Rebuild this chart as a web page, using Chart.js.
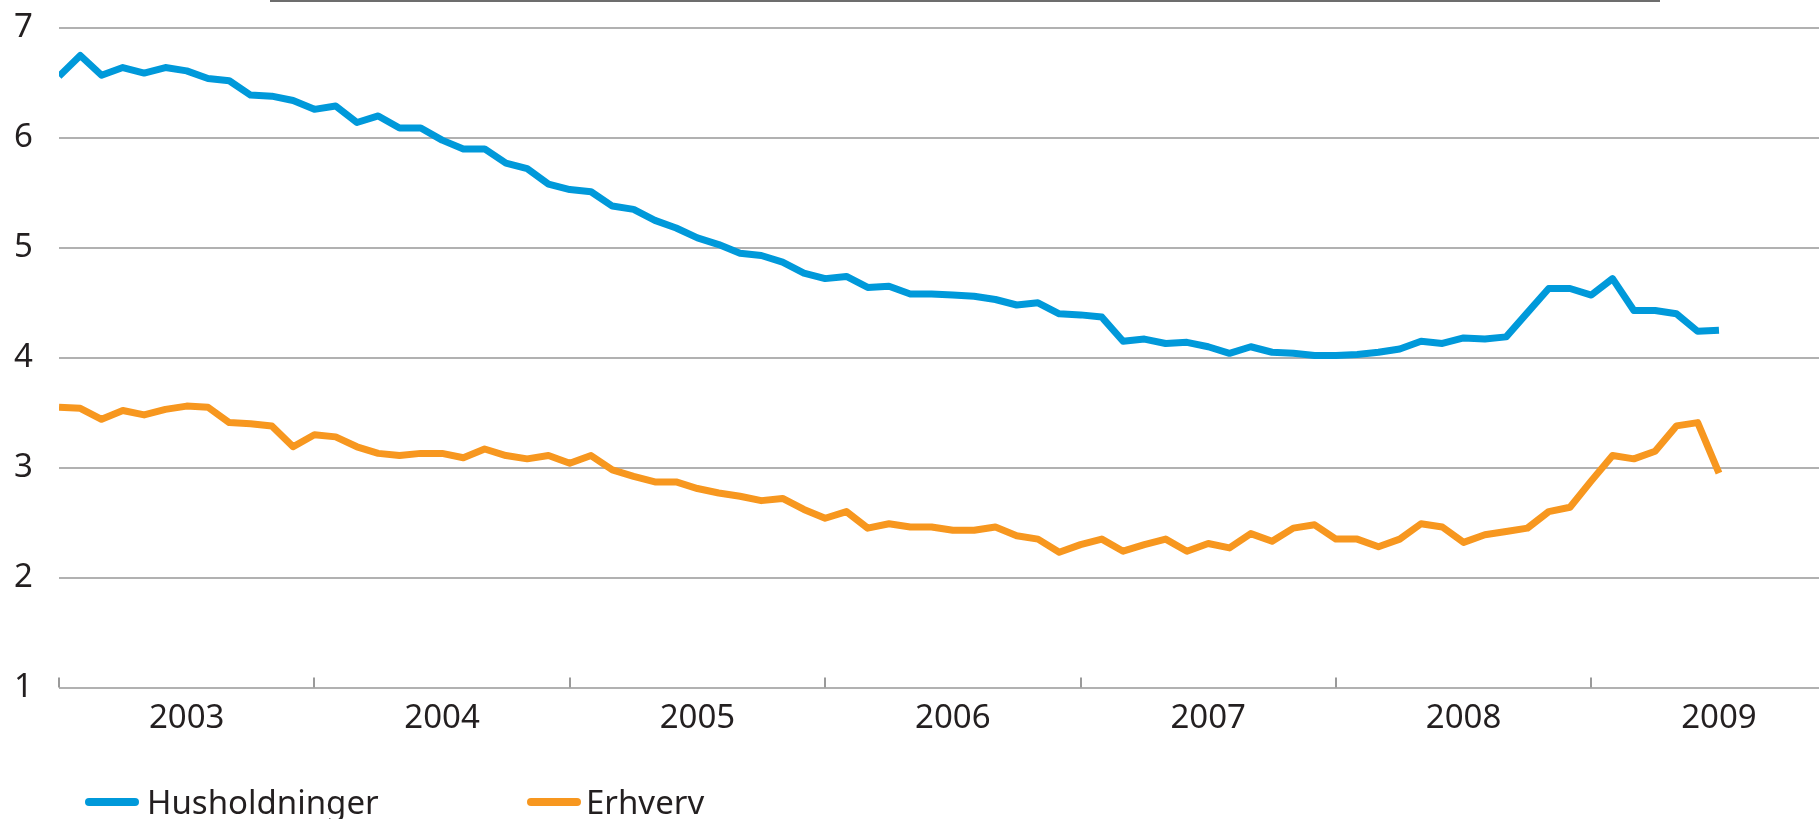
<!DOCTYPE html>
<html>
<head>
<meta charset="utf-8">
<script src="https://cdn.jsdelivr.net/npm/chart.js@4/dist/chart.umd.min.js"></script>
<style>
  body { margin: 0; overflow: hidden; background: #fff; }
  .wrap { position: relative; width: 1819px; height: 819px; }
  .topline { position: absolute; left: 270px; top: 0; width: 1390px; height: 2px; background: #6d6d6d; }
  .legend-line { position: absolute; height: 8px; border-radius: 4px; top: 798px; width: 54px; }
  .legend-text { position: absolute; top: 785px; font: 33px "Noto Sans", sans-serif; line-height: 33px; color: #231f20; white-space: nowrap; }
</style>
</head>
<body>
<div class="wrap">
  <canvas id="myChart" width="1819" height="819"></canvas>
  <div class="topline"></div>
  <div class="legend-line" style="left:85px;background:#0099da"></div>
  <div class="legend-text" style="left:147px">Husholdninger</div>
  <div class="legend-line" style="left:527px;background:#f7971f"></div>
  <div class="legend-text" style="left:586px">Erhverv</div>
</div>
<script>
// monthly values, Jan 2003 - Jul 2009
const years = ['2003', '2004', '2005', '2006', '2007', '2008', '2009'];
const husholdninger = [
  6.56, 6.75, 6.57, 6.64, 6.59, 6.64, 6.61, 6.54, 6.52, 6.39, 6.38, 6.34,
  6.26, 6.29, 6.14, 6.20, 6.09, 6.09, 5.98, 5.90, 5.90, 5.77, 5.72, 5.58,
  5.53, 5.51, 5.38, 5.35, 5.25, 5.18, 5.09, 5.03, 4.95, 4.93, 4.87, 4.77,
  4.72, 4.74, 4.64, 4.65, 4.58, 4.58, 4.57, 4.56, 4.53, 4.48, 4.50, 4.40,
  4.39, 4.37, 4.15, 4.17, 4.13, 4.14, 4.10, 4.04, 4.10, 4.05, 4.04, 4.02,
  4.02, 4.03, 4.05, 4.08, 4.15, 4.13, 4.18, 4.17, 4.19, 4.41, 4.63, 4.63,
  4.57, 4.72, 4.43, 4.43, 4.40, 4.24, 4.25
];
const erhverv = [
  3.55, 3.54, 3.44, 3.52, 3.48, 3.53, 3.56, 3.55, 3.41, 3.40, 3.38, 3.19,
  3.30, 3.28, 3.19, 3.13, 3.11, 3.13, 3.13, 3.09, 3.17, 3.11, 3.08, 3.11,
  3.04, 3.11, 2.98, 2.92, 2.87, 2.87, 2.81, 2.77, 2.74, 2.70, 2.72, 2.62,
  2.54, 2.60, 2.45, 2.49, 2.46, 2.46, 2.43, 2.43, 2.46, 2.38, 2.35, 2.23,
  2.30, 2.35, 2.24, 2.30, 2.35, 2.24, 2.31, 2.27, 2.40, 2.33, 2.45, 2.48,
  2.35, 2.35, 2.28, 2.35, 2.49, 2.46, 2.32, 2.39, 2.42, 2.45, 2.60, 2.64,
  2.88, 3.11, 3.08, 3.15, 3.38, 3.41, 2.95
];
const yTicks = [1, 2, 3, 4, 5, 6, 7];

const font = { family: 'Noto Sans', size: 33 };
const textColor = '#231f20';

// small tick marks pointing up from the x axis at each new year
const yearTicks = {
  id: 'yearTicks',
  afterDraw(chart) {
    const x = chart.scales.x;
    const bottom = chart.chartArea.bottom;
    const c = chart.ctx;
    c.save();
    c.strokeStyle = '#9a9a9a';
    c.lineWidth = 2;
    years.forEach((y, i) => {
      const px = Math.round(x.getPixelForValue(i * 12));
      c.beginPath();
      c.moveTo(px, bottom);
      c.lineTo(px, bottom - 10);
      c.stroke();
    });
    c.restore();
  }
};

const ctx = document.querySelector('#myChart');

myChart = new Chart(ctx, {
  type: 'line',
  data: {
    datasets: [{
      label: 'Husholdninger',
      data: husholdninger.map((v, i) => ({ x: i, y: v })),
      borderColor: '#0099da',
      backgroundColor: '#0099da',
      borderWidth: 7,
      pointRadius: 0,
      tension: 0,
      borderJoinStyle: 'round'
    }, {
      label: 'Erhverv',
      data: erhverv.map((v, i) => ({ x: i, y: v })),
      borderColor: '#f7971f',
      backgroundColor: '#f7971f',
      borderWidth: 7,
      pointRadius: 0,
      tension: 0,
      borderJoinStyle: 'round'
    }]
  },
  options: {
    responsive: false,
    animation: false,
    devicePixelRatio: 1,
    layout: { padding: { top: 28, left: 0, right: 0, bottom: 0 } },
    plugins: {
      legend: { display: false },
      tooltip: { enabled: false }
    },
    scales: {
      x: {
        type: 'linear',
        min: 0,
        max: 82.7,
        grid: { display: false },
        border: { display: false },
        afterBuildTicks: s => { s.ticks = years.map((y, i) => ({ value: i * 12 + 6 })); },
        afterFit: s => { s.height = 131.5; s.paddingLeft = 0; s.paddingRight = 0; },
        ticks: {
          autoSkip: false,
          maxRotation: 0,
          padding: 3,
          font: font,
          color: textColor,
          callback: v => years[(v - 6) / 12]
        }
      },
      y: {
        min: 1,
        max: 7,
        afterBuildTicks: s => { s.ticks = yTicks.map(v => ({ value: v })); },
        afterFit: s => { s.width = 59; s.paddingTop = 0; s.paddingBottom = 0; },
        grid: { color: '#b1b1b1', lineWidth: 2, drawTicks: false },
        border: { display: false },
        ticks: {
          padding: 26,
          font: font,
          color: textColor
        }
      }
    }
  },
  plugins: [yearTicks]
});
</script>
</body>
</html>
